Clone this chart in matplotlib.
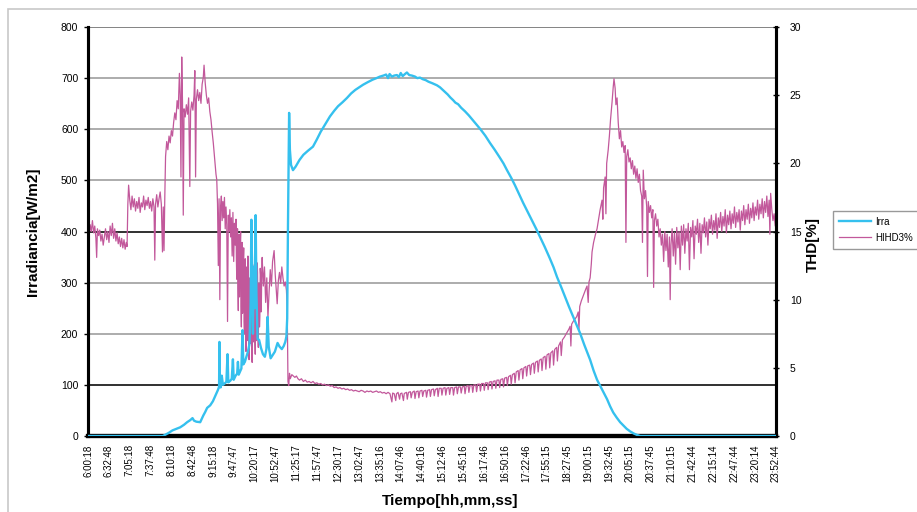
import matplotlib
matplotlib.use("Agg")
import matplotlib.pyplot as plt
from matplotlib.lines import Line2D
from matplotlib.patches import Rectangle

plt.rcParams["font.family"] = ["Liberation Sans", "DejaVu Sans"]

# time axis labels (hh:mm:ss)
time_labels = [
    "6:00:18", "6:32:48", "7:05:18", "7:37:48", "8:10:18", "8:42:48",
    "9:15:18", "9:47:47", "10:20:17", "10:52:47", "11:25:17", "11:57:47",
    "12:30:17", "13:02:47", "13:35:16", "14:07:46", "14:40:16", "15:12:46",
    "15:45:16", "16:17:46", "16:50:16", "17:22:46", "17:55:15", "18:27:45",
    "19:00:15", "19:32:45", "20:05:15", "20:37:45", "21:10:15", "21:42:44",
    "22:15:14", "22:47:44", "23:20:14", "23:52:44",
]

irr_ticks = [0, 100, 200, 300, 400, 500, 600, 700, 800]
thd_ticks = [0, 5, 10, 15, 20, 25, 30]

# irradiance [W/m2] as (hour of day, value)
irr_points = [
    (6.01, 0), (7.95, 0), (8.00, 2), (8.10, 6), (8.20, 11), (8.30, 14),
    (8.40, 17), (8.50, 22), (8.58, 27), (8.66, 31), (8.72, 35), (8.76, 30),
    (8.82, 28), (8.92, 27), (9.00, 40), (9.05, 47), (9.10, 55), (9.18, 60),
    (9.25, 68), (9.32, 80), (9.38, 90), (9.41, 96), (9.42, 184), (9.43, 110),
    (9.45, 95), (9.48, 118), (9.51, 100), (9.56, 103), (9.60, 106), (9.63, 160),
    (9.65, 105), (9.70, 108), (9.74, 112), (9.77, 150), (9.79, 110), (9.84, 118),
    (9.88, 122), (9.90, 145), (9.92, 120), (9.95, 125), (9.99, 132), (10.02, 207),
    (10.04, 140), (10.08, 145), (10.12, 155), (10.16, 165), (10.20, 180),
    (10.23, 260), (10.25, 423), (10.27, 310), (10.29, 200), (10.31, 331),
    (10.33, 250), (10.36, 432), (10.38, 280), (10.41, 190), (10.45, 188),
    (10.50, 172), (10.55, 160), (10.60, 155), (10.64, 170), (10.67, 233),
    (10.70, 175), (10.75, 152), (10.80, 158), (10.86, 165), (10.93, 182),
    (10.98, 175), (11.04, 170), (11.09, 176), (11.13, 184), (11.16, 195),
    (11.18, 230), (11.20, 409), (11.23, 632), (11.25, 560), (11.28, 530),
    (11.33, 520), (11.40, 527), (11.50, 540), (11.60, 550), (11.72, 558),
    (11.85, 566), (11.95, 580), (12.05, 595), (12.17, 610), (12.29, 625),
    (12.40, 636), (12.50, 645), (12.62, 653), (12.73, 661), (12.84, 670),
    (12.95, 677), (13.05, 682), (13.15, 687), (13.27, 692), (13.40, 697),
    (13.50, 700), (13.59, 703), (13.68, 705), (13.75, 707), (13.80, 700),
    (13.84, 708), (13.90, 703), (13.96, 705), (14.03, 706), (14.08, 702),
    (14.13, 710), (14.18, 704), (14.24, 708), (14.29, 711), (14.35, 706),
    (14.42, 705), (14.50, 703), (14.56, 700), (14.63, 701), (14.70, 698),
    (14.78, 696), (14.85, 693), (14.95, 690), (15.07, 686), (15.15, 682),
    (15.25, 675), (15.35, 668), (15.42, 662), (15.49, 657), (15.55, 652),
    (15.62, 649), (15.70, 642), (15.80, 635), (15.90, 627), (16.00, 618),
    (16.10, 609), (16.20, 600), (16.33, 587), (16.45, 573), (16.57, 560),
    (16.70, 545), (16.80, 533), (16.89, 520), (17.00, 505), (17.10, 490),
    (17.20, 474), (17.31, 456), (17.43, 438), (17.55, 420), (17.65, 405),
    (17.75, 389), (17.87, 370), (18.00, 348), (18.10, 330), (18.19, 311),
    (18.30, 291), (18.40, 272), (18.50, 253), (18.61, 233), (18.70, 217),
    (18.79, 201), (18.90, 178), (19.05, 149), (19.14, 128), (19.23, 110),
    (19.36, 91), (19.49, 72), (19.57, 58), (19.65, 46), (19.74, 36),
    (19.83, 27), (19.92, 20), (20.00, 14), (20.09, 9), (20.18, 5),
    (20.27, 2), (20.35, 0), (23.88, 0),
]

# third harmonic distortion [%] as (hour of day, value)
thd_points = [
    (6.01, 15.3), (6.03, 14.6), (6.06, 15.5), (6.09, 15.0), (6.12, 15.8),
    (6.15, 14.9), (6.18, 15.4), (6.21, 14.5), (6.23, 13.1), (6.25, 15.2),
    (6.28, 14.7), (6.31, 15.1), (6.34, 14.3), (6.37, 14.8), (6.40, 14.0),
    (6.43, 14.6), (6.46, 15.2), (6.49, 14.4), (6.52, 15.0), (6.55, 14.2),
    (6.58, 15.4), (6.61, 14.7), (6.64, 15.6), (6.67, 14.5), (6.70, 15.2),
    (6.73, 14.3), (6.76, 14.9), (6.79, 14.1), (6.82, 14.6), (6.85, 13.9),
    (6.88, 14.5), (6.91, 13.8), (6.94, 14.4), (6.97, 13.7), (7.00, 14.2),
    (7.02, 13.9),
    (7.04, 17.0), (7.06, 18.4), (7.09, 17.3), (7.12, 16.6), (7.15, 17.6),
    (7.18, 16.8), (7.21, 17.4), (7.24, 16.5), (7.27, 17.2), (7.30, 16.7),
    (7.33, 17.5), (7.36, 16.4), (7.39, 17.1), (7.42, 16.8), (7.45, 17.6),
    (7.48, 16.6), (7.51, 17.3), (7.54, 16.9), (7.57, 17.5), (7.60, 16.7),
    (7.63, 17.2), (7.66, 16.5), (7.69, 17.4), (7.72, 16.8), (7.74, 12.9),
    (7.76, 17.0), (7.79, 17.7), (7.82, 16.8), (7.85, 17.4), (7.88, 17.9),
    (7.91, 17.0), (7.94, 13.5), (7.96, 16.8), (7.98, 13.6), (8.00, 17.5),
    (8.02, 20.5), (8.05, 21.6), (8.08, 21.0), (8.11, 22.0), (8.14, 21.5),
    (8.17, 22.4), (8.20, 22.0), (8.23, 23.0), (8.26, 23.7), (8.29, 23.2),
    (8.32, 24.6), (8.35, 24.0), (8.38, 26.6), (8.40, 25.0), (8.42, 19.0),
    (8.44, 27.8), (8.46, 24.5), (8.48, 16.2), (8.50, 24.0), (8.53, 23.4),
    (8.56, 24.3), (8.59, 23.6), (8.62, 24.8), (8.65, 18.3), (8.67, 23.8),
    (8.70, 24.5), (8.73, 23.9), (8.76, 25.0), (8.78, 26.8), (8.80, 19.0),
    (8.82, 24.7), (8.85, 25.4), (8.88, 24.6), (8.91, 25.2), (8.94, 24.4),
    (8.97, 25.8), (9.00, 26.3), (9.02, 27.2), (9.05, 25.9), (9.08, 25.0),
    (9.11, 24.4), (9.14, 24.8), (9.17, 23.8), (9.20, 23.2), (9.23, 22.3),
    (9.26, 21.5), (9.29, 20.5), (9.31, 19.8), (9.33, 19.2),
    (9.35, 18.8), (9.37, 17.0), (9.39, 12.5), (9.41, 17.4), (9.43, 10.0),
    (9.45, 16.9), (9.47, 17.6), (9.49, 15.8), (9.51, 17.2), (9.53, 16.0),
    (9.55, 17.5), (9.57, 15.2), (9.59, 16.8), (9.61, 15.5), (9.63, 8.4),
    (9.65, 16.2), (9.67, 15.0), (9.69, 16.6), (9.71, 14.6), (9.73, 16.0),
    (9.75, 13.2), (9.77, 16.4), (9.79, 12.8), (9.81, 15.6), (9.83, 14.0),
    (9.85, 15.9), (9.86, 13.0), (9.87, 11.5), (9.88, 14.6), (9.89, 15.2),
    (9.90, 10.8), (9.91, 9.2), (9.92, 13.5), (9.93, 14.8), (9.94, 10.2),
    (9.95, 12.0), (9.96, 14.1), (9.97, 15.0), (9.98, 9.5), (9.99, 8.0),
    (10.00, 13.2), (10.01, 14.2), (10.02, 9.0), (10.03, 10.5), (10.04, 12.9),
    (10.05, 13.8), (10.06, 8.4), (10.07, 7.5), (10.08, 11.8), (10.09, 13.0),
    (10.10, 7.1), (10.11, 6.2), (10.12, 11.0), (10.13, 12.4), (10.14, 8.2),
    (10.15, 7.0), (10.16, 13.2), (10.17, 12.8), (10.18, 6.4), (10.19, 5.6),
    (10.20, 10.6), (10.21, 11.6), (10.22, 7.9), (10.23, 6.8), (10.24, 13.0),
    (10.25, 12.2), (10.26, 6.1), (10.27, 5.4), (10.28, 10.2), (10.29, 11.0),
    (10.30, 6.9), (10.31, 7.5), (10.32, 11.9), (10.33, 12.6), (10.34, 7.2),
    (10.35, 6.0), (10.36, 10.4), (10.37, 11.4), (10.38, 7.0), (10.39, 8.0),
    (10.40, 12.7), (10.41, 12.0), (10.42, 7.6), (10.43, 6.5), (10.44, 10.3),
    (10.45, 11.2), (10.46, 8.0), (10.47, 8.8), (10.48, 12.3), (10.49, 11.8),
    (10.50, 9.1), (10.51, 10.0), (10.52, 12.4), (10.53, 13.1),
    (10.56, 11.0), (10.59, 12.4), (10.62, 9.8), (10.65, 11.6), (10.68, 8.7),
    (10.71, 10.6), (10.74, 12.2), (10.77, 11.0), (10.80, 12.8), (10.84, 13.6),
    (10.87, 11.8), (10.90, 10.5), (10.92, 9.7), (10.95, 11.4), (10.98, 12.0),
    (11.01, 11.2), (11.04, 12.4), (11.07, 11.6), (11.10, 11.0), (11.13, 11.3),
    (11.16, 10.7), (11.18, 9.5), (11.20, 4.0), (11.22, 3.7), (11.24, 4.6),
    (11.26, 4.2), (11.30, 4.5), (11.34, 4.4), (11.38, 4.3), (11.42, 4.4),
    (11.46, 4.2), (11.50, 4.1), (11.55, 4.2), (11.60, 4.0), (11.65, 4.1),
    (11.70, 3.95), (11.75, 4.0), (11.80, 3.9), (11.85, 4.0), (11.90, 3.85),
    (11.95, 3.9), (12.00, 3.8), (12.05, 3.85), (12.10, 3.75), (12.15, 3.8),
    (12.20, 3.7), (12.25, 3.75), (12.30, 3.65), (12.35, 3.7), (12.40, 3.55),
    (12.45, 3.6), (12.50, 3.5), (12.55, 3.55), (12.60, 3.45), (12.65, 3.5),
    (12.70, 3.4), (12.75, 3.45), (12.80, 3.35), (12.85, 3.4), (12.90, 3.3),
    (12.95, 3.35), (13.00, 3.3), (13.05, 3.25), (13.10, 3.35), (13.15, 3.3),
    (13.20, 3.2), (13.25, 3.3), (13.30, 3.25), (13.35, 3.3), (13.40, 3.2),
    (13.45, 3.25), (13.50, 3.3), (13.55, 3.2), (13.60, 3.25), (13.65, 3.15),
    (13.70, 3.2), (13.75, 3.1), (13.80, 3.2), (13.85, 3.1), (13.90, 2.5),
    (13.92, 3.15), (13.96, 3.1), (14.00, 2.6), (14.02, 3.1), (14.06, 3.2),
    (14.10, 2.7), (14.12, 3.1), (14.16, 3.15), (14.20, 2.6), (14.22, 3.1),
    (14.24, 3.15), (14.28, 3.2), (14.30, 2.7), (14.33, 3.2), (14.38, 3.25),
    (14.40, 2.8), (14.43, 3.2), (14.48, 3.3), (14.50, 2.75), (14.53, 3.25),
    (14.58, 3.3), (14.60, 2.8), (14.63, 3.3), (14.68, 3.35), (14.70, 2.9),
    (14.73, 3.3), (14.78, 3.35), (14.80, 2.85), (14.83, 3.35), (14.88, 3.4),
    (14.90, 2.9), (14.93, 3.4), (14.98, 3.45), (15.00, 2.95), (15.03, 3.4),
    (15.08, 3.5), (15.10, 2.9), (15.13, 3.5), (15.18, 3.5), (15.20, 3.0),
    (15.23, 3.5), (15.28, 3.55), (15.30, 3.0), (15.33, 3.5), (15.38, 3.55),
    (15.40, 3.05), (15.43, 3.55), (15.48, 3.55), (15.50, 3.0), (15.53, 3.55),
    (15.58, 3.6), (15.60, 3.1), (15.63, 3.6), (15.68, 3.6), (15.70, 3.15),
    (15.73, 3.6), (15.78, 3.65), (15.80, 3.1), (15.83, 3.65), (15.88, 3.7),
    (15.90, 3.2), (15.93, 3.7), (15.98, 3.7), (16.00, 3.2), (16.03, 3.75),
    (16.08, 3.75), (16.10, 3.25), (16.13, 3.8), (16.18, 3.8), (16.20, 3.3),
    (16.23, 3.85), (16.28, 3.85), (16.30, 3.35), (16.33, 3.9), (16.38, 3.9),
    (16.40, 3.4), (16.43, 3.95), (16.48, 4.0), (16.50, 3.45), (16.53, 4.0),
    (16.58, 4.05), (16.60, 3.5), (16.63, 4.1), (16.68, 4.1), (16.70, 3.55),
    (16.73, 4.15), (16.78, 4.2), (16.80, 3.6), (16.83, 4.25), (16.88, 4.3),
    (16.90, 3.7), (16.93, 4.35), (16.98, 4.45), (17.00, 3.8), (17.03, 4.5),
    (17.08, 4.6), (17.10, 3.9), (17.13, 4.7), (17.18, 4.8), (17.20, 4.1),
    (17.23, 4.85), (17.28, 4.95), (17.30, 4.2), (17.33, 5.0), (17.38, 5.1),
    (17.40, 4.4), (17.43, 5.15), (17.48, 5.2), (17.50, 4.5), (17.53, 5.25),
    (17.58, 5.35), (17.60, 4.6), (17.63, 5.4), (17.68, 5.5), (17.70, 4.7),
    (17.73, 5.55), (17.78, 5.65), (17.80, 4.8), (17.83, 5.75), (17.88, 5.85),
    (17.90, 4.9), (17.93, 5.95), (17.98, 6.05), (18.00, 5.0), (18.03, 6.1),
    (18.08, 6.25), (18.10, 5.2), (18.13, 6.35), (18.18, 6.5), (18.20, 5.5),
    (18.23, 6.6), (18.28, 6.9), (18.30, 5.9), (18.33, 7.05), (18.38, 7.25),
    (18.42, 7.45), (18.46, 7.65), (18.50, 7.85), (18.53, 8.05), (18.55, 6.6),
    (18.57, 8.2), (18.61, 8.4), (18.65, 8.55), (18.70, 8.75), (18.74, 9.1),
    (18.76, 7.8), (18.78, 9.5), (18.82, 9.9), (18.86, 10.2), (18.90, 10.5),
    (18.94, 10.8), (18.97, 11.0), (19.00, 9.8), (19.02, 11.3), (19.05, 11.6),
    (19.08, 12.6), (19.10, 13.5), (19.14, 14.2), (19.19, 14.8), (19.23, 15.2),
    (19.27, 15.9), (19.31, 16.6), (19.36, 17.3), (19.38, 15.9), (19.40, 18.2),
    (19.44, 19.0), (19.46, 16.3), (19.48, 20.0), (19.52, 21.0), (19.55, 22.0),
    (19.58, 23.2), (19.62, 24.5), (19.65, 25.6), (19.67, 26.2),
    (19.70, 25.5), (19.72, 24.3), (19.75, 24.8), (19.78, 23.0), (19.81, 21.8),
    (19.84, 22.4), (19.87, 21.2), (19.90, 21.6), (19.93, 20.8), (19.96, 21.3),
    (19.98, 14.2), (20.00, 20.5), (20.03, 21.0), (20.06, 20.1), (20.09, 20.4),
    (20.12, 19.6), (20.15, 20.2), (20.18, 19.2), (20.21, 19.8), (20.24, 18.9),
    (20.27, 19.6), (20.30, 18.6), (20.33, 19.2), (20.36, 18.0), (20.39, 17.6),
    (20.41, 14.2), (20.43, 19.5), (20.46, 17.4), (20.49, 18.0), (20.52, 16.8),
    (20.54, 11.7), (20.56, 17.2), (20.59, 16.4), (20.62, 16.9), (20.65, 16.0),
    (20.68, 16.6), (20.70, 10.9), (20.72, 15.8), (20.75, 16.3), (20.78, 15.4),
    (20.81, 15.9), (20.84, 14.6), (20.87, 15.2), (20.90, 14.0), (20.93, 14.8),
    (20.96, 12.8), (20.99, 15.0), (21.02, 13.6), (21.05, 14.8), (21.08, 12.4),
    (21.11, 14.6), (21.13, 10.0), (21.15, 14.0), (21.18, 15.2), (21.21, 13.2),
    (21.24, 14.9), (21.27, 12.6), (21.30, 15.3), (21.33, 13.8), (21.36, 15.0),
    (21.39, 12.2), (21.42, 15.4), (21.45, 14.0), (21.48, 15.5), (21.51, 13.4),
    (21.54, 15.2), (21.57, 14.3), (21.60, 15.6), (21.63, 12.2), (21.66, 15.3),
    (21.69, 14.6), (21.72, 15.8), (21.75, 13.0), (21.78, 15.4), (21.81, 14.8),
    (21.84, 15.9), (21.87, 14.2), (21.90, 15.6), (21.93, 13.4), (21.96, 15.5),
    (21.99, 14.9), (22.02, 16.0), (22.05, 14.6), (22.08, 15.7), (22.11, 14.0),
    (22.14, 15.9), (22.17, 15.2), (22.20, 16.2), (22.23, 14.8), (22.26, 15.8),
    (22.29, 15.1), (22.32, 16.3), (22.35, 14.5), (22.38, 16.0), (22.41, 15.3),
    (22.44, 16.4), (22.47, 15.0), (22.50, 16.1), (22.53, 15.4), (22.56, 16.6),
    (22.59, 14.9), (22.62, 16.2), (22.65, 15.5), (22.68, 16.5), (22.71, 15.2),
    (22.74, 16.3), (22.77, 15.6), (22.80, 16.8), (22.83, 15.3), (22.86, 16.4),
    (22.89, 15.7), (22.92, 16.6), (22.95, 15.1), (22.98, 16.5), (23.01, 15.8),
    (23.04, 16.9), (23.07, 15.5), (23.10, 16.6), (23.13, 15.9), (23.16, 17.0),
    (23.19, 15.6), (23.22, 16.7), (23.25, 16.0), (23.28, 17.1), (23.31, 15.8),
    (23.34, 16.8), (23.37, 16.2), (23.40, 17.3), (23.43, 15.9), (23.46, 17.0),
    (23.49, 16.3), (23.52, 17.4), (23.55, 16.0), (23.58, 17.2), (23.61, 16.4),
    (23.64, 17.6), (23.67, 16.1), (23.70, 17.3), (23.72, 14.8), (23.74, 17.8),
    (23.77, 16.6), (23.80, 15.8), (23.83, 16.3), (23.86, 15.4), (23.88, 16.0),
]

IRR_COLOR = "#35C0EE"
THD_COLOR = "#C2589B"


def to_hours(label):
    h, m, s = (int(p) for p in label.split(":"))
    return h + m / 60 + s / 3600


irr_hours, irr_values = zip(*irr_points)
thd_hours, thd_values = zip(*thd_points)
tick_hours = [to_hours(t) for t in time_labels]

fig = plt.figure(figsize=(9.17, 5.12), dpi=100)
# thin grey frame around the chart area
fig.patches.append(Rectangle((8 / 917, -0.1), 1.1, 1.1 - 9 / 512,
                             transform=fig.transFigure, fill=False,
                             edgecolor="#c8c8c8", lw=1.2))

ax = fig.add_axes([88 / 917, 1 - 436 / 512, (776 - 88) / 917, (436 - 27) / 512])
ax2 = ax.twinx()

# horizontal grid, two of the lines come out darker
for v in irr_ticks[1:]:
    col = "#202020" if v in (100, 400) else ("#7a7a7a" if v == 800 else "#a6a6a6")
    ax2.axhline(v * 30 / 800, color=col, lw=1.3, zorder=0)

ax2.plot(thd_hours, thd_values, color=THD_COLOR, lw=0.9, zorder=2)
ax.plot(irr_hours, irr_values, color=IRR_COLOR, lw=1.7, zorder=3)
ax.set_zorder(ax2.get_zorder() + 1)
ax.patch.set_visible(False)

ax.set_xlim(tick_hours[0], tick_hours[-1])
ax.set_ylim(0, 800)
ax2.set_ylim(0, 30)
ax.set_yticks(irr_ticks)
ax2.set_yticks(thd_ticks)
ax.set_xticks(tick_hours)
ax.set_xticklabels(time_labels, rotation=90, fontsize=7)
ax.tick_params(axis="y", labelsize=7.5, length=3, width=1, pad=4)
ax.tick_params(axis="x", length=0, pad=6)
ax2.tick_params(axis="y", labelsize=7.5, length=4, width=1, direction="inout", pad=8)

for a in (ax, ax2):
    a.spines["top"].set_visible(False)
    a.spines["bottom"].set_linewidth(3)
    a.spines["left"].set_linewidth(2.2)
    a.spines["right"].set_linewidth(2.2)

fig.text(33 / 917, 1 - 232 / 512, "Irradiancia[W/m2]", rotation=90,
         ha="center", va="center", fontsize=11, fontweight="bold")
fig.text(450 / 917, 1 - 501 / 512, "Tiempo[hh,mm,ss]",
         ha="center", va="center", fontsize=11, fontweight="bold")
fig.text(813 / 917, 1 - 245 / 512, "THD[%]", rotation=90,
         ha="center", va="center", fontsize=11, fontweight="bold")

handles = [Line2D([], [], color=IRR_COLOR, lw=1.7),
           Line2D([], [], color=THD_COLOR, lw=0.9)]
leg = fig.legend(handles, ["Irra", "HIHD3%"], loc="upper left",
                 bbox_to_anchor=(833 / 917, 1 - 211 / 512), fontsize=7,
                 frameon=True, fancybox=False, handlelength=3.3,
                 borderpad=0.6, labelspacing=0.6, handletextpad=0.4,
                 borderaxespad=0)
leg.get_frame().set_edgecolor("#808080")
leg.get_frame().set_linewidth(1.0)

fig.savefig("out.png", dpi=100)
